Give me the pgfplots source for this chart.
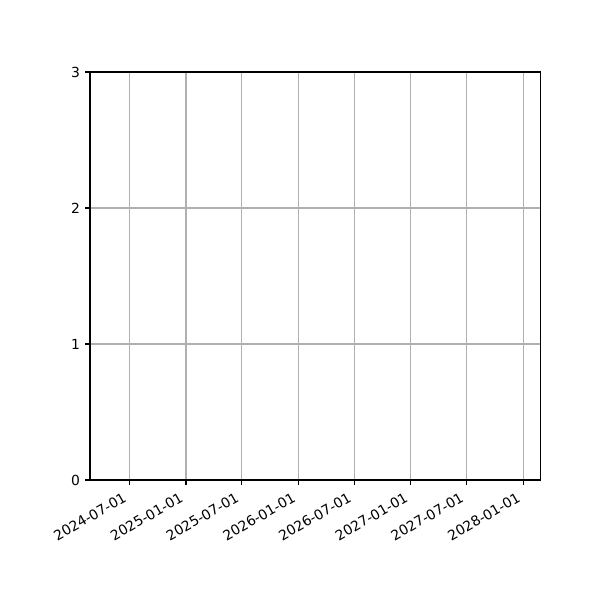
\documentclass[border=0pt]{standalone}
\usepackage{pgfplots}
\pgfplotsset{compat=1.18}
\usepackage{fontspec}
\setmainfont{DejaVu Sans}
\begin{document}
\begin{tikzpicture}
\useasboundingbox (0,0) rectangle (432pt,432pt);
\begin{axis}[
  at={(64.8pt,86.4pt)}, anchor=south west,
  scale only axis, width=324.2pt, height=293.76pt,
  xmin=-127.6, xmax=1334.4, ymin=0, ymax=3,
  xtick={0,184,365,549,730,914,1095,1279},
  xticklabels={2024-07-01,2025-01-01,2025-07-01,2026-01-01,2026-07-01,2027-01-01,2027-07-01,2028-01-01},
  ytick={0,1,2,3},
  tick align=outside, tick pos=left,
  major tick length=3.5pt,
  every tick/.style={black, line width=0.8pt},
  axis line style={line width=0.8pt},
  grid=major,
  major grid style={color=black!31, line width=0.8pt},
  /pgf/number format/assume math mode=true,
  tick label style={font=\fontsize{10}{12}\selectfont},
  xticklabel style={xshift=-1.2pt, yshift=-11.4pt, rotate=30, anchor=base east, inner sep=0pt},
  yticklabel style={anchor=east, inner sep=0pt, xshift=-3.5pt},
]
\end{axis}
\end{tikzpicture}
\end{document}
